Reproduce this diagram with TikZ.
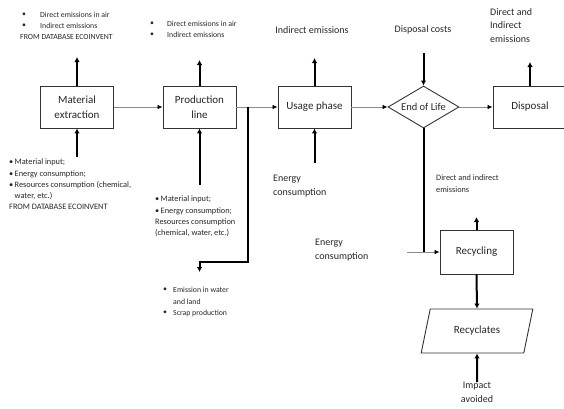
\documentclass[tikz,border=0pt]{standalone}
\usepackage{fontspec}
\setmainfont{Carlito}
\usetikzlibrary{arrows.meta,shapes.geometric}
\begin{document}
\begin{tikzpicture}[x=1pt,y=-1pt,
  box/.style={draw=black!80, line width=0.9pt, minimum width=73pt, minimum height=42pt, inner sep=0pt, align=center, text=black!85, font=\fontsize{11}{14.5}\selectfont},
  flow/.style={draw=black!45, line width=0.8pt, -{Latex[length=5pt,width=4.5pt,black]}},
  bigarrow/.style={draw=black, line width=2pt, -{Latex[length=5pt,width=5.5pt]}},
  bigline/.style={draw=black, line width=2pt},
  tiny/.style={font=\fontsize{7.8}{11}\selectfont, inner sep=0pt, anchor=west, text=black!85},
  note/.style={font=\fontsize{8.3}{11.2}\selectfont, inner sep=0pt, anchor=north west, align=left, text=black!85},
  lbl/.style={font=\fontsize{10}{13.5}\selectfont, inner sep=0pt, align=left, text=black!85}
]
\useasboundingbox (0,0) rectangle (564,408);
\clip (0,0) rectangle (564,408);

% main boxes
\node[box] (me) at (77,107) {Material\\extraction};
\node[box] (pl) at (199.5,107) {Production\\line};
\node[box] (up) at (314.5,107) {Usage phase};
\node[draw=black!80, line width=0.9pt, diamond, aspect=1.69, minimum width=71pt, minimum height=42pt, inner sep=0pt, text=black!85, font=\fontsize{10.5}{13}\selectfont] (eol) at (423.5,107) {End of Life};
\node[box, minimum width=90pt] (disp) at (538,107) {Disposal\hspace*{16pt}};
\node[box, minimum height=44pt] (rec) at (476.5,252) {Recycling};
\node[draw=black!80, line width=0.9pt, trapezium, trapezium left angle=64.5, trapezium right angle=115.5, trapezium stretches=true, minimum width=112pt, minimum height=44pt, inner sep=0pt, text=black!85, font=\fontsize{11}{14}\selectfont] (recy) at (477,331) {Recyclates};

% top-left texts
\node[tiny] (b1) at (22,15) {\textbullet};
\node[tiny] (t1) at (40,15) {Direct emissions in air};
\node[tiny] (b2) at (22,26) {\textbullet};
\node[tiny] (t2) at (40,26) {Indirect emissions};
\node[tiny] (t3) at (20,37) {FROM DATABASE ECOINVENT};

\node[tiny] (b4) at (150,24) {\textbullet};
\node[tiny] (t4) at (167,24) {Direct emissions in air};
\node[tiny] (b5) at (150,35) {\textbullet};
\node[tiny] (t5) at (167,35) {Indirect emissions};

\node[lbl] (ie) at (312,30) {Indirect emissions};
\node[lbl] (dc) at (423,30) {Disposal costs};
\node[lbl, anchor=north west] (die) at (490,8) {Direct and\\Indirect\\emissions};

% bottom texts
\node[note] (bl) at (9,159) {\textbullet\,Material input;\\\textbullet\,Energy consumption;\\\textbullet\,Resources consumption (chemical,\\\phantom{\textbullet\,}water, etc.)\\FROM DATABASE ECOINVENT};
\node[note] (pb) at (155,196) {\textbullet\,Material input;\\\textbullet\,Energy consumption;\\Resources consumption\\(chemical, water, etc.)};
\node[tiny] (b6) at (163,290) {\textbullet};
\node[tiny] (t6) at (173,290) {Emission in water};
\node[tiny] (t7) at (173,302) {and land};
\node[tiny] (b8) at (163,313) {\textbullet};
\node[tiny] (t8) at (173,313) {Scrap production};

\node[lbl, anchor=north west] (ec1) at (273,175) {Energy\\consumption};
\node[lbl, anchor=north west] (ec2) at (315,239) {Energy\\consumption};
\node[note] (rde) at (436,175) {Direct and indirect\\emissions};
\node[lbl, align=center, anchor=north] (ia) at (477,382) {Impact\\avoided};

% coordinates for free ends
\coordinate (meUp) at (77,57);
\coordinate (meIn) at (77,157);
\coordinate (plUp) at (199.5,60);
\coordinate (plIn) at (199.5,185);
\coordinate (upUp) at (314.5,58);
\coordinate (upIn) at (314.5,163);
\coordinate (dcIn) at (423.5,53);
\coordinate (dispUp) at (530,62);
\coordinate (dispTop) at (530,86);
\coordinate (recUp) at (476.5,217);
\coordinate (br) at (248,107);
\coordinate (br1) at (248,262);
\coordinate (br2) at (199.5,262);
\coordinate (brEnd) at (199.5,272);
\coordinate (ecStart) at (407,252);
\coordinate (eolJoin) at (423.5,252);

% main flow
\draw[flow] (me.east) -- (pl.west);
\draw[flow] (pl.east) -- (up.west);
\draw[flow] (up.east) -- (eol.west);
\draw[flow] (eol.east) -- (disp.west);
\draw[flow] (ecStart) -- (rec.west);

% thick arrows
\draw[bigarrow] (me.north) -- (meUp);
\draw[bigarrow] (meIn) -- (me.south);
\draw[bigarrow] (pl.north) -- (plUp);
\draw[bigarrow] (plIn) -- (pl.south);
\draw[bigarrow] (up.north) -- (upUp);
\draw[bigarrow] (upIn) -- (up.south);
\draw[bigarrow] (dcIn) -- (eol.north);
\draw[bigarrow] (dispTop) -- (dispUp);
\draw[bigline] (eol.south) -- (eolJoin);
\draw[bigarrow] (br) -- (br1) -- (br2) -- (brEnd);
\draw[bigarrow] (rec.north) -- (recUp);
\draw[bigarrow] (rec.south) -- (recy.north);
\draw[bigarrow] (ia.north) -- (recy.south);
\end{tikzpicture}
\end{document}
